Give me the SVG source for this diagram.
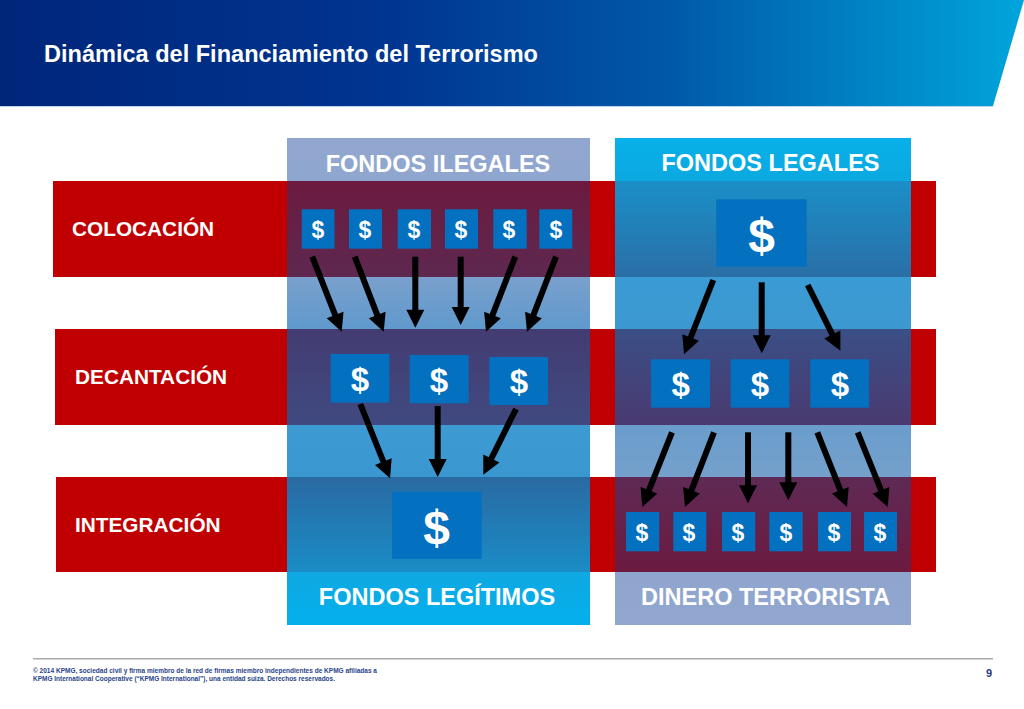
<svg xmlns="http://www.w3.org/2000/svg" width="1024" height="709" viewBox="0 0 1024 709">
<style>
text{font-family:"Liberation Sans",Arial,sans-serif;font-weight:700}
.band{fill:#c00000}
.bl{fill:#fff;font-size:20.8px}
.hd{fill:#fff;font-size:23.5px;text-anchor:middle}
.box{fill:#0470c0}
.d{fill:#fff;text-anchor:middle}
.s{font-size:23px}.m{font-size:33px}.l{font-size:48px}
.arrows line{stroke:#000;stroke-width:6;marker-end:url(#ah)}
.ft{fill:#27448a;font-size:6.75px}
</style>
<defs>
<linearGradient id="hg" x1="0" y1="0" x2="1" y2="0">
<stop offset="0" stop-color="#00267a"/><stop offset=".38" stop-color="#003591"/><stop offset=".65" stop-color="#0058a8"/><stop offset="1" stop-color="#00a5dc"/>
</linearGradient>
<linearGradient id="cl" gradientUnits="userSpaceOnUse" x1="0" y1="138" x2="0" y2="625">
<stop offset="0" stop-color="#92a7d0"/><stop offset=".0883" stop-color="#8fa6ce"/>
<stop offset=".0883" stop-color="#6c1a3e"/><stop offset=".2854" stop-color="#5e2850"/>
<stop offset=".2854" stop-color="#7aa0cd"/><stop offset=".3922" stop-color="#5f99cc"/>
<stop offset=".3922" stop-color="#433c72"/><stop offset=".5893" stop-color="#404a80"/>
<stop offset=".5893" stop-color="#3d9ad3"/><stop offset=".6961" stop-color="#3a97d0"/>
<stop offset=".6961" stop-color="#2a6aa2"/><stop offset=".8912" stop-color="#1a8cc6"/>
<stop offset=".8912" stop-color="#0fa8e2"/><stop offset="1" stop-color="#03b0ec"/>
</linearGradient>
<linearGradient id="cr" gradientUnits="userSpaceOnUse" x1="0" y1="138" x2="0" y2="625">
<stop offset="0" stop-color="#08b0ea"/><stop offset=".0883" stop-color="#0ca8e0"/>
<stop offset=".0883" stop-color="#1b8fc8"/><stop offset=".2854" stop-color="#2a6fa6"/>
<stop offset=".2854" stop-color="#3a9bd4"/><stop offset=".3922" stop-color="#3d98d0"/>
<stop offset=".3922" stop-color="#3a4f86"/><stop offset=".5893" stop-color="#4a3a70"/>
<stop offset=".5893" stop-color="#6a9dcc"/><stop offset=".6961" stop-color="#75a0cc"/>
<stop offset=".6961" stop-color="#5e2a55"/><stop offset=".8912" stop-color="#6c1a3f"/>
<stop offset=".8912" stop-color="#8fa5ce"/><stop offset="1" stop-color="#92a7d0"/>
</linearGradient>
<marker id="ah" markerUnits="userSpaceOnUse" markerWidth="18" markerHeight="18" refX="8" refY="9" orient="auto" overflow="visible"><path d="M0,0L18,9L0,18z" fill="#000"/></marker>
</defs>
<rect width="1024" height="709" fill="#fff"/>
<g id="header">
<polygon points="0,106 993,106 992.7,107 0,107" fill="#b9d5ea"/>
<polygon points="0,0 1024,0 993,106 0,106" fill="url(#hg)"/>
<text x="44" y="61.5" fill="#fff" font-size="23.4" textLength="494" lengthAdjust="spacingAndGlyphs">Dinámica del Financiamiento del Terrorismo</text>
</g>
<g id="band-colocacion"><rect class="band" x="53" y="181" width="883" height="96"/><text class="bl" x="72" y="235.7">COLOCACIÓN</text></g>
<g id="band-decantacion"><rect class="band" x="55" y="329" width="881" height="96"/><text class="bl" x="75" y="383.7">DECANTACIÓN</text></g>
<g id="band-integracion"><rect class="band" x="56" y="477" width="880" height="95"/><text class="bl" x="75" y="531.7">INTEGRACIÓN</text></g>
<g id="col-left"><rect x="287" y="138" width="303" height="487" fill="url(#cl)"/>
<text class="hd" x="438" y="172">FONDOS ILEGALES</text><text class="hd" x="437" y="604.5">FONDOS LEGÍTIMOS</text></g>
<g id="col-right"><rect x="615" y="138" width="296" height="487" fill="url(#cr)"/>
<text class="hd" x="770.5" y="171">FONDOS LEGALES</text><text class="hd" x="765.5" y="604.5">DINERO TERRORISTA</text></g>

<g id="n1"><rect class="box" x="301.7" y="209.3" width="32.8" height="39.4"/><text class="d s" x="318" y="238">$</text></g>
<g id="n2"><rect class="box" x="349" y="209.3" width="33" height="39.4"/><text class="d s" x="365" y="238">$</text></g>
<g id="n3"><rect class="box" x="397.7" y="209.3" width="33.3" height="39.4"/><text class="d s" x="414" y="238">$</text></g>
<g id="n4"><rect class="box" x="445" y="209.3" width="33" height="39.4"/><text class="d s" x="461" y="238">$</text></g>
<g id="n5"><rect class="box" x="493.3" y="209.3" width="33.4" height="39.4"/><text class="d s" x="509" y="238">$</text></g>
<g id="n6"><rect class="box" x="539.3" y="209.3" width="33" height="39.4"/><text class="d s" x="556" y="238">$</text></g>
<g id="n7"><rect class="box" x="330.7" y="354" width="58.6" height="48.7"/><text class="d m" x="360" y="391">$</text></g>
<g id="n8"><rect class="box" x="409.7" y="355" width="59" height="48.3"/><text class="d m" x="439" y="392">$</text></g>
<g id="n9"><rect class="box" x="489.3" y="357" width="58.7" height="48"/><text class="d m" x="519" y="393">$</text></g>
<g id="n10"><rect class="box" x="392" y="491.7" width="89.7" height="67.3"/><text class="d l" x="436.5" y="543.5">$</text></g>
<g id="n11"><rect class="box" x="716.3" y="199.3" width="90.4" height="67.4"/><text class="d l" x="761.5" y="251.5">$</text></g>
<g id="n12"><rect class="box" x="651" y="359.3" width="59" height="48.4"/><text class="d m" x="680.7" y="396">$</text></g>
<g id="n13"><rect class="box" x="730.7" y="359.3" width="58.6" height="48.4"/><text class="d m" x="760" y="396">$</text></g>
<g id="n14"><rect class="box" x="810.3" y="359.3" width="58.7" height="48.4"/><text class="d m" x="840" y="396">$</text></g>
<g id="n15"><rect class="box" x="626" y="512" width="33.3" height="39.3"/><text class="d s" x="642" y="541">$</text></g>
<g id="n16"><rect class="box" x="673.3" y="512" width="33" height="39.3"/><text class="d s" x="689" y="541">$</text></g>
<g id="n17"><rect class="box" x="722" y="512" width="33.3" height="39.3"/><text class="d s" x="738" y="541">$</text></g>
<g id="n18"><rect class="box" x="769.3" y="512" width="33.4" height="39.3"/><text class="d s" x="786" y="541">$</text></g>
<g id="n19"><rect class="box" x="818" y="512" width="33" height="39.3"/><text class="d s" x="834" y="541">$</text></g>
<g id="n20"><rect class="box" x="864" y="512" width="33" height="39.3"/><text class="d s" x="880" y="541">$</text></g>

<g id="connectors" class="arrows">
<line x1="312.3" y1="256.7" x2="338.05" y2="322.4"/>
<line x1="354.7" y1="256.7" x2="380.1" y2="322.4"/>
<line x1="415.3" y1="256.7" x2="415.3" y2="317.7"/>
<line x1="460.7" y1="256.7" x2="460.7" y2="315"/>
<line x1="515.3" y1="256.7" x2="489.6" y2="322.4"/>
<line x1="556" y1="256.7" x2="530.6" y2="322.4"/>
<line x1="360.3" y1="404" x2="386.3" y2="469"/>
<line x1="437.7" y1="406" x2="437.7" y2="467"/>
<line x1="516" y1="409" x2="487.8" y2="465.7"/>
<line x1="713.3" y1="280" x2="687.7" y2="345"/>
<line x1="761.7" y1="282.3" x2="761.7" y2="343.3"/>
<line x1="807.7" y1="285" x2="835.9" y2="341.7"/>
<line x1="672" y1="432.3" x2="646" y2="497.7"/>
<line x1="714" y1="432.3" x2="688.6" y2="497.7"/>
<line x1="748" y1="432.3" x2="748" y2="493.3"/>
<line x1="788.3" y1="432.3" x2="788.3" y2="490.3"/>
<line x1="817.3" y1="432.3" x2="843.3" y2="497.7"/>
<line x1="857.7" y1="432.3" x2="884" y2="497.7"/>
</g>

<g id="footer">
<line x1="33" y1="658.7" x2="993" y2="658.7" stroke="#aaa" stroke-width="1.5"/>
<text class="ft" x="33" y="673" textLength="344" lengthAdjust="spacingAndGlyphs">© 2014 KPMG, sociedad civil y firma miembro de la red de firmas miembro independientes de KPMG afiliadas a</text>
<text class="ft" x="33" y="681" textLength="302" lengthAdjust="spacingAndGlyphs">KPMG International Cooperative (“KPMG International”), una entidad suiza. Derechos reservados.</text>
<text x="986" y="677" fill="#1f3a80" font-size="11">9</text>
</g>
</svg>
